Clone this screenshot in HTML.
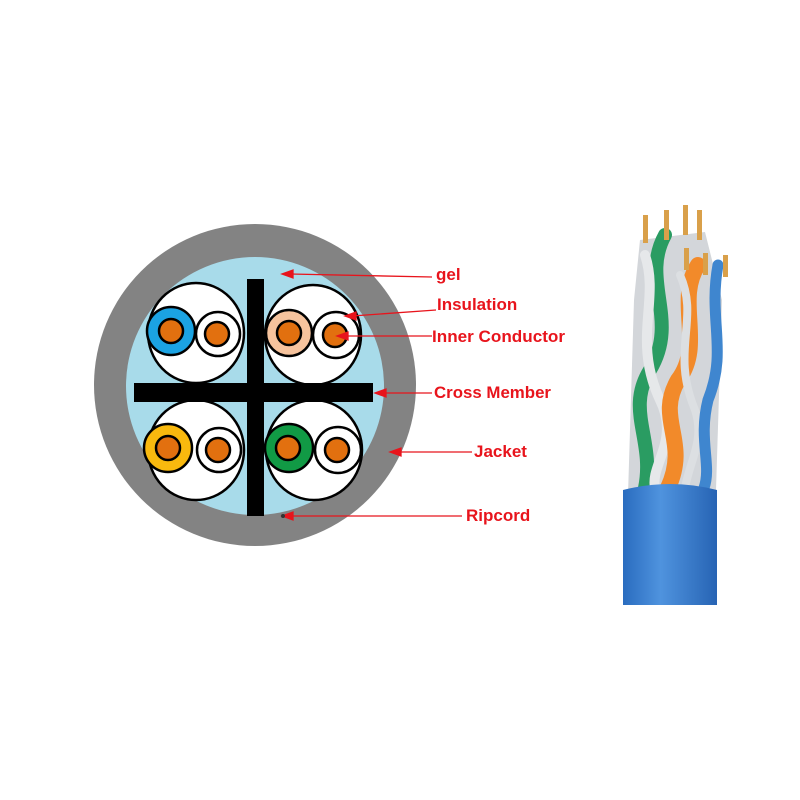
<!DOCTYPE html>
<html><head><style>
html,body{margin:0;padding:0;background:#fff;width:800px;height:800px;overflow:hidden}
</style></head><body>
<svg width="800" height="800" viewBox="0 0 800 800" xmlns="http://www.w3.org/2000/svg">
<defs>
<linearGradient id="jk" x1="0" x2="1"><stop offset="0" stop-color="#2a6cbf"/><stop offset="0.4" stop-color="#4f93de"/><stop offset="1" stop-color="#2764b4"/></linearGradient>
</defs>
<circle cx="255" cy="385" r="161" fill="#838383"/>
<circle cx="255" cy="386" r="129" fill="#a8dbea"/>
<g stroke="#000" stroke-width="2.5">
<ellipse cx="196" cy="333" rx="48" ry="50" fill="#fff"/>
<ellipse cx="313" cy="335" rx="48" ry="50" fill="#fff"/>
<ellipse cx="196" cy="450" rx="48" ry="50" fill="#fff"/>
<ellipse cx="314" cy="450" rx="48" ry="50" fill="#fff"/>
<circle cx="218" cy="334" r="22" fill="#fff"/>
<circle cx="171" cy="331" r="24" fill="#1ba3e3"/>
<circle cx="336" cy="335" r="23" fill="#fff"/>
<circle cx="289" cy="333" r="23" fill="#f6c39d"/>
<circle cx="219" cy="450" r="22" fill="#fff"/>
<circle cx="168" cy="448" r="24" fill="#f9b90e"/>
<circle cx="338" cy="450" r="23" fill="#fff"/>
<circle cx="289" cy="448" r="24" fill="#119a45"/>
<circle cx="171" cy="331" r="12" fill="#e2700f"/>
<circle cx="217" cy="334" r="12" fill="#e2700f"/>
<circle cx="289" cy="333" r="12" fill="#e2700f"/>
<circle cx="335" cy="335" r="12" fill="#e2700f"/>
<circle cx="168" cy="448" r="12" fill="#e2700f"/>
<circle cx="218" cy="450" r="12" fill="#e2700f"/>
<circle cx="288" cy="448" r="12" fill="#e2700f"/>
<circle cx="337" cy="450" r="12" fill="#e2700f"/>
</g>
<rect x="247" y="279" width="17" height="237" fill="#000"/>
<rect x="134" y="383" width="239" height="19" fill="#000"/>
<g stroke="#e8141c" stroke-width="1.3" fill="#e8141c">
<line x1="290" y1="274" x2="432" y2="277"/><polygon points="282,274 293,270 293,278"/>
<line x1="352" y1="316" x2="436" y2="310"/><polygon points="345,316 356,312 356,320"/>
<line x1="345" y1="336" x2="432" y2="336"/><polygon points="337,336 348,332 348,340"/>
<line x1="383" y1="393" x2="432" y2="393"/><polygon points="375,393 386,389 386,397"/>
<line x1="398" y1="452" x2="472" y2="452"/><polygon points="390,452 401,448 401,456"/>
<line x1="290" y1="516" x2="462" y2="516"/><polygon points="282,516 293,512 293,520"/>
</g>
<circle cx="283" cy="516" r="2" fill="#333"/>
<g font-family="Liberation Sans, sans-serif" font-weight="bold" font-size="17" fill="#e8141c">
<text x="436" y="280">gel</text>
<text x="437" y="310">Insulation</text>
<text x="432" y="342" textLength="133" lengthAdjust="spacingAndGlyphs">Inner Conductor</text>
<text x="434" y="398" textLength="117" lengthAdjust="spacingAndGlyphs">Cross Member</text>
<text x="474" y="457">Jacket</text>
<text x="466" y="521">Ripcord</text>
</g>
<!-- cable photo -->
<g>
<path d="M640 240 L705 232 L722 300 L716 490 L628 495 L634 300 Z" fill="#d3d6da"/>
<g fill="none" stroke-linecap="round">
<path d="M665 235 C640 280,680 320,650 370 C625 410,655 440,645 488" stroke="#2a9c62" stroke-width="14"/>
<path d="M645 255 C660 300,632 340,660 400 C680 440,650 465,655 488" stroke="#e6e8ea" stroke-width="10"/>
<path d="M698 265 C675 300,705 345,678 380 C655 420,690 440,668 488" stroke="#f28a2a" stroke-width="16"/>
<path d="M680 275 C700 320,670 350,695 410 C705 440,690 460,685 488" stroke="#dcdfe2" stroke-width="8"/>
<path d="M718 265 C708 320,728 350,708 400 C698 440,712 465,704 488" stroke="#3f86cf" stroke-width="11"/>
</g>
<g fill="#d9a04a"><rect x="643" y="215" width="5" height="28"/><rect x="664" y="210" width="5" height="30"/><rect x="683" y="205" width="5" height="30"/><rect x="697" y="210" width="5" height="30"/><rect x="684" y="248" width="5" height="22"/><rect x="703" y="253" width="5" height="22"/><rect x="723" y="255" width="5" height="22"/></g>
<path d="M623 490 Q670 478 717 490 L717 605 L623 605 Z" fill="url(#jk)"/>
</g>
</svg>
</body></html>
